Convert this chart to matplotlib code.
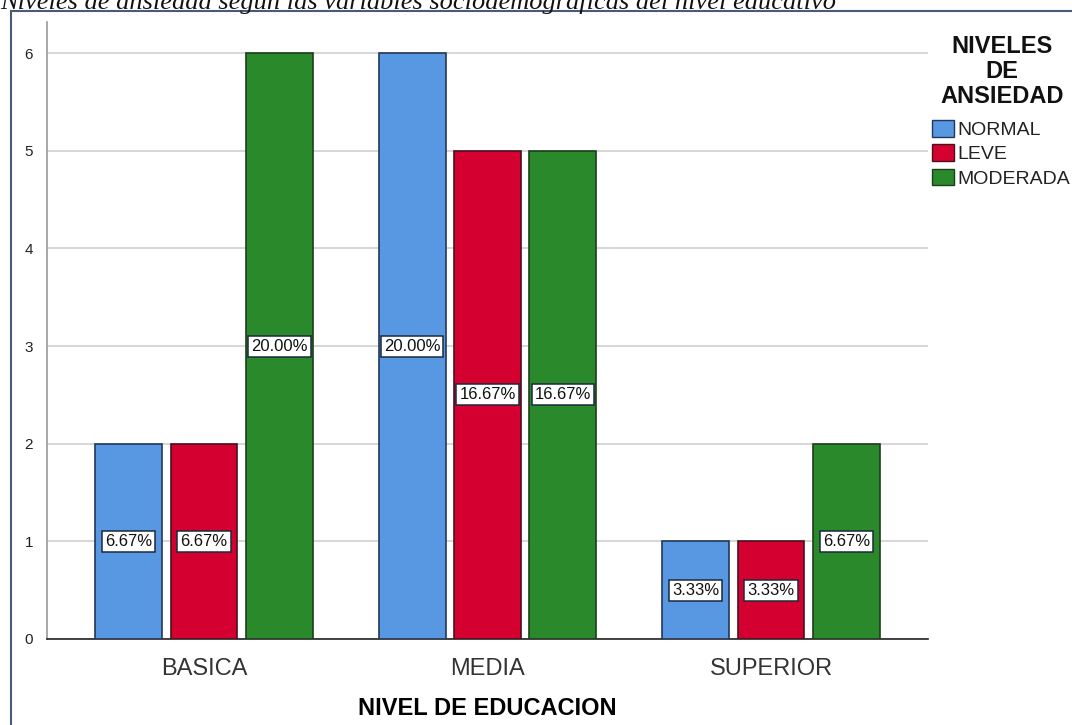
import matplotlib
matplotlib.use("Agg")
import matplotlib.pyplot as plt
from matplotlib.patches import Rectangle, Patch
import numpy as np

plt.rcParams['font.family'] = ['Liberation Sans', 'DejaVu Sans']

categories = ["BASICA", "MEDIA", "SUPERIOR"]
series_names = ["NORMAL", "LEVE", "MODERADA"]
normal = [2, 6, 1]
leve = [2, 5, 1]
moderada = [6, 5, 2]
normal_pct = ["6.67%", "20.00%", "3.33%"]
leve_pct = ["6.67%", "16.67%", "3.33%"]
moderada_pct = ["20.00%", "16.67%", "6.67%"]
y_ticks = [0, 1, 2, 3, 4, 5, 6]

colors = ["#5897e2", "#d40030", "#2a892a"]
edges = ["#22385a", "#4a1020", "#1d3d1d"]

fig = plt.figure(figsize=(10.72, 7.25), dpi=100)
ax = fig.add_axes([47 / 1072, 1 - 639 / 725, 881 / 1072, 617 / 725])

x = np.arange(len(categories))
step = 0.266
width = 0.236
values = [normal, leve, moderada]
pcts = [normal_pct, leve_pct, moderada_pct]

for i, (vals, labels) in enumerate(zip(values, pcts)):
    xs = x + (i - 1) * step
    bars = ax.bar(xs, vals, width=width, color=colors[i], edgecolor=edges[i],
                  linewidth=1.2, zorder=3, label=series_names[i])
    for b, v, lab in zip(bars, vals, labels):
        ax.text(b.get_x() + b.get_width() / 2, v / 2, lab, ha="center", va="center",
                fontsize=12, color="#111111", zorder=5,
                bbox=dict(boxstyle="square,pad=0.18", facecolor="white",
                          edgecolor="#1a2a3a", linewidth=1.1))

ax.set_xlim(-0.554, 2.554)
ax.set_ylim(0, 6.32)
ax.set_yticks(y_ticks)
ax.set_yticklabels([str(t) for t in y_ticks], fontsize=11, color="#222222")
ax.set_xticks(x)
ax.set_xticklabels(categories, fontsize=17, color="#333333")
ax.tick_params(axis="both", length=0)
ax.tick_params(axis="x", pad=14)
ax.tick_params(axis="y", pad=10)
ax.yaxis.grid(True, color="#cfcfcf", linewidth=1.2, zorder=0)
ax.set_axisbelow(True)
for s in ["top", "right"]:
    ax.spines[s].set_visible(False)
ax.spines["left"].set_color("#9a9a9a")
ax.spines["left"].set_linewidth(1.2)
ax.spines["bottom"].set_color("#222222")
ax.spines["bottom"].set_linewidth(1.2)

ax.set_xlabel("NIVEL DE EDUCACION", fontsize=17, fontweight="bold", labelpad=12)

# legend heading, then the entries below it
fig.text(1002 / 1072, 1 - 35 / 725, "NIVELES\nDE\nANSIEDAD", ha="center", va="top",
         fontsize=17, fontweight="bold", linespacing=1.12, color="#111111")

handles = [Patch(facecolor=c, edgecolor=e, linewidth=1.0) for c, e in zip(colors, edges)]
leg = fig.legend(handles, series_names,
                 loc="upper left", bbox_to_anchor=(932 / 1072, 1 - 120 / 725),
                 frameon=False, fontsize=14, handlelength=1.15, handleheight=0.95,
                 handletextpad=0.15, labelspacing=0.27, borderaxespad=0, borderpad=0.0)
for t in leg.get_texts():
    t.set_color("#222222")

# outer frame around the chart
fig.patches.append(Rectangle((11 / 1072, -0.05), 1.2, 1 - 11 / 725 + 0.05,
                             transform=fig.transFigure, fill=False,
                             edgecolor="#4a5a78", linewidth=1.5))

fig.text(0.0, 1 - 9 / 725, "Niveles de ansiedad según las variables sociodemográficas del nivel educativo",
         family="Liberation Serif", style="italic", fontsize=19, ha="left",
         va="baseline", color="#111111")

fig.savefig("out.png", dpi=100, facecolor="white")
